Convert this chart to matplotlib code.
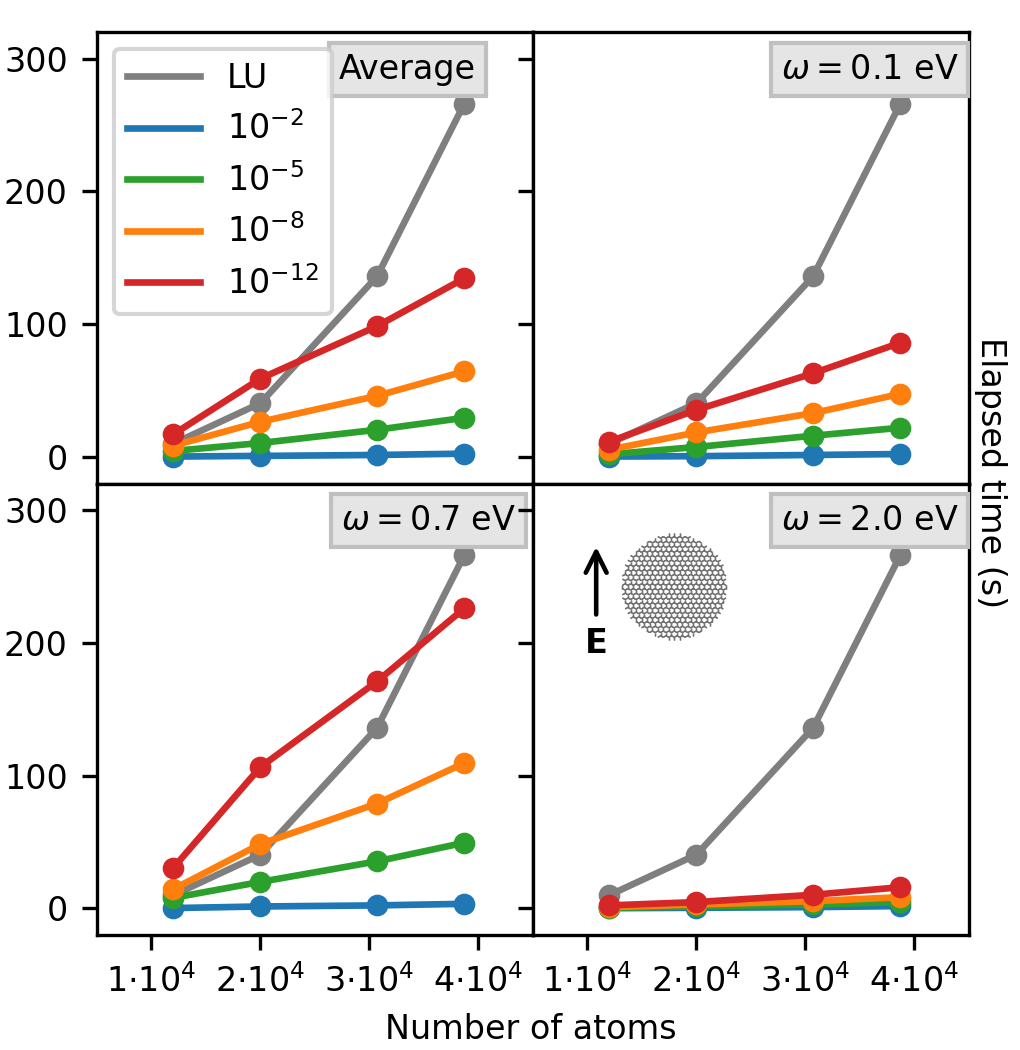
import numpy as np
import matplotlib
matplotlib.use("Agg")
import matplotlib.pyplot as plt
from matplotlib.collections import LineCollection

# --- data ---
n_atoms = [12000, 20000, 30700, 38700]
lu_time = [10, 40.5, 136, 266]

labels = ["LU", r"$10^{-2}$", r"$10^{-5}$", r"$10^{-8}$", r"$10^{-12}$"]
colors = ["tab:gray", "tab:blue", "tab:green", "tab:orange", "tab:red"]

panel_titles = ["Average", r"$\omega = 0.1$ eV", r"$\omega = 0.7$ eV", r"$\omega = 2.0$ eV"]

avg_tol_2 = [0.3, 0.8, 1.5, 2.5]
avg_tol_5 = [4.5, 10.5, 20.5, 29.5]
avg_tol_8 = [8.5, 26.5, 46, 64.5]
avg_tol_12 = [17, 59, 98.5, 134.5]

w01_tol_2 = [0.3, 0.6, 1.5, 2.2]
w01_tol_5 = [2, 7.5, 16, 22]
w01_tol_8 = [5.5, 18.5, 33, 47.5]
w01_tol_12 = [11.5, 35.5, 63, 86]

w07_tol_2 = [0.3, 1.5, 2.3, 3.5]
w07_tol_5 = [8, 20, 35.5, 49.5]
w07_tol_8 = [14.5, 48.5, 79, 109.5]
w07_tol_12 = [30.5, 106.5, 171, 226]

w20_tol_2 = [0.2, 0.5, 1, 1.8]
w20_tol_5 = [0.5, 1.5, 3, 4.8]
w20_tol_8 = [1, 3, 5.5, 8.5]
w20_tol_12 = [2.3, 4.8, 10.3, 16]

panels = [
    [avg_tol_2, avg_tol_5, avg_tol_8, avg_tol_12],
    [w01_tol_2, w01_tol_5, w01_tol_8, w01_tol_12],
    [w07_tol_2, w07_tol_5, w07_tol_8, w07_tol_12],
    [w20_tol_2, w20_tol_5, w20_tol_8, w20_tol_12],
]

xticks = [10000, 20000, 30000, 40000]
xticklabels = [r"$1{\cdot}10^4$", r"$2{\cdot}10^4$", r"$3{\cdot}10^4$", r"$4{\cdot}10^4$"]
yticks = [0, 100, 200, 300]

fig, axes = plt.subplots(2, 2, figsize=(3.4, 3.5), dpi=300, sharex=True, sharey=True)
fig.subplots_adjust(left=0.095, right=0.950, top=0.9695, bottom=0.1095, wspace=0, hspace=0)

title_x = [0.712, 0.772, 0.76, 0.772]

for i, ax in enumerate(axes.flat):
    series = [lu_time] + panels[i]
    for y, c, lab in zip(series, colors, labels):
        ax.plot(n_atoms, y, '-', color=c, lw=1.6, label=lab)
        ax.plot(n_atoms, y, 'o', color=c, ms=4.2)
    ax.text(title_x[i], 0.917, panel_titles[i], transform=ax.transAxes,
            ha='center', va='center', fontsize=8,
            bbox=dict(boxstyle='square,pad=0.3', facecolor='#e5e5e5', edgecolor='#c0c0c0', lw=1))
    ax.tick_params(labelsize=8)

ax0 = axes[0, 0]
ax0.set_xlim(5000, 45000)
ax0.set_ylim(-20, 320)
ax0.set_xticks(xticks, xticklabels)
ax0.set_yticks(yticks)
ax0.legend(loc='upper left', fontsize=8, handlelength=2.2)

fig.text(0.52, 0.004, "Number of atoms", ha='center', va='bottom', fontsize=8)
fig.text(0.971, 0.55, "Elapsed time (s)", rotation=270, ha='center', va='center', fontsize=8)

# inset: field arrow and flake sketch
ax3 = axes[1, 1]
ax3.annotate("", xy=(0.145, 0.86), xytext=(0.145, 0.71), xycoords='axes fraction',
             arrowprops=dict(arrowstyle='->,head_length=0.5,head_width=0.25', lw=1.1,
                             color='black', shrinkA=0, shrinkB=0))
ax3.text(0.145, 0.645, "E", transform=ax3.transAxes, ha='center', va='center',
         fontsize=8, fontweight='bold')

ins = fig.add_axes([0.607, 0.388, 0.108, 0.106])
a = 0.06
R = 1.0
ang = np.deg2rad(90 + 60 * np.arange(7))
bonds = []
for row in range(-20, 21):
    for col in range(-20, 21):
        cx = np.sqrt(3) * a * (col + 0.5 * (row % 2))
        cy = 1.5 * a * row
        if cx ** 2 + cy ** 2 > (R + 2 * a) ** 2:
            continue
        vx = cx + a * np.cos(ang)
        vy = cy + a * np.sin(ang)
        for k in range(6):
            mx = 0.5 * (vx[k] + vx[k + 1])
            my = 0.5 * (vy[k] + vy[k + 1])
            if mx ** 2 + my ** 2 < R ** 2:
                bonds.append([(vx[k], vy[k]), (vx[k + 1], vy[k + 1])])
ins.add_collection(LineCollection(bonds, colors='#707070', linewidths=0.32))
ins.set_xlim(-1.05, 1.05)
ins.set_ylim(-1.05, 1.05)
ins.set_aspect('equal')
ins.axis('off')

fig.savefig("out.png", dpi=300)
